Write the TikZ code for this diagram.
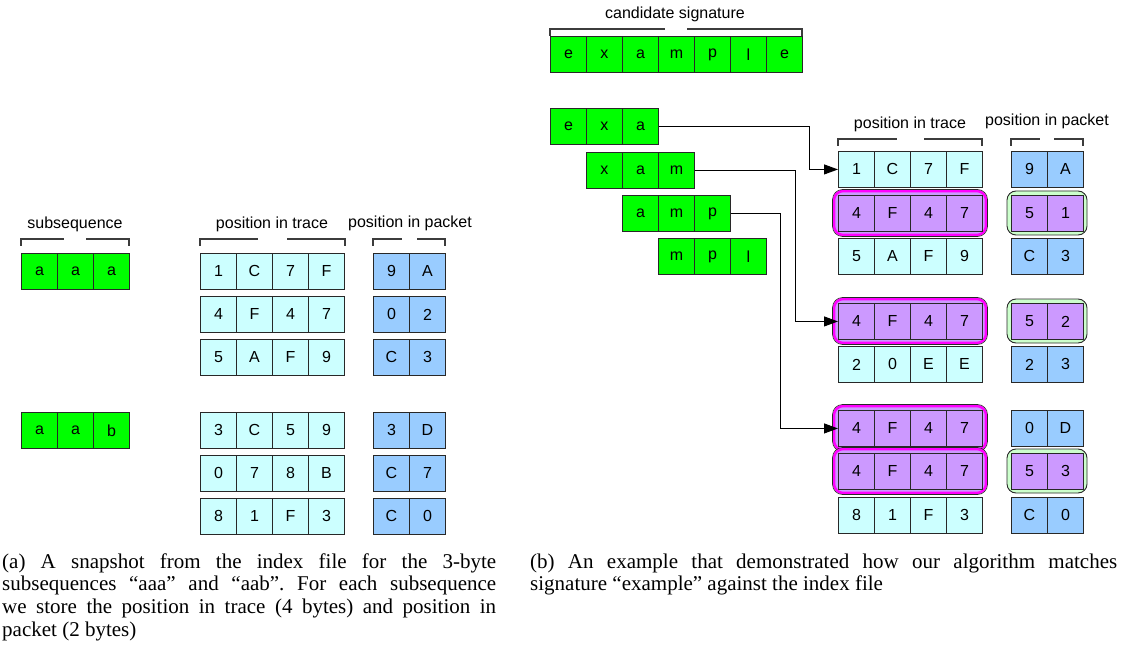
\documentclass[tikz,border=0pt]{standalone}
\usepackage{fontspec}
\setmainfont{Liberation Serif}
\setsansfont{Liberation Sans}
\usetikzlibrary{arrows.meta}
\definecolor{sgreen}{RGB}{0,255,0}
\definecolor{tcyan}{RGB}{204,255,255}
\definecolor{pblue}{RGB}{153,204,255}
\definecolor{ppurple}{RGB}{204,153,255}
\definecolor{pmag}{RGB}{255,0,255}
\definecolor{lgreen}{RGB}{204,255,204}
\definecolor{edge}{RGB}{40,40,40}
\definecolor{brk}{RGB}{60,60,60}
\newcommand{\cellrow}[5]{\foreach \v [count=\k] in {#5} {\node[cell, fill=#4] (#1-\k) at ({#2+(\k-1)*36},#3) {\v};}}
\newcommand{\mybracket}[5]{\draw[bracket] (#1,#5+7) -- (#1,#5) -- (#3,#5) (#4,#5) -- (#2,#5) -- (#2,#5+7);}
\tikzset{
  cell/.style={draw=edge, line width=0.9pt, minimum width=36pt, minimum height=36pt, inner sep=0pt, anchor=north west, font=\sffamily\fontsize{16}{19}\selectfont},
  bracket/.style={draw=brk, line width=1.1pt},
  lbl/.style={inner sep=0pt, font=\sffamily\fontsize{16}{19}\selectfont},
  arr/.style={draw=black, line width=1pt, -{Triangle[length=14pt,width=10pt]}},
  magbox/.style={fill=ppurple, draw=pmag, line width=2.6pt, rounded corners=9pt},
  magline/.style={draw=edge, line width=0.6pt, rounded corners=10pt},
  grnbox/.style={fill=lgreen, draw=edge, line width=0.9pt, rounded corners=9pt},
  captxt/.style={anchor=base west, inner sep=0pt, align=justify, font=\rmfamily\fontsize{21}{22.7}\selectfont}
}
\begin{document}
\begin{tikzpicture}[x=1pt,y=-1pt]
\useasboundingbox (0,0) rectangle (1122,647);
% ---------- (a) ----------
\node[lbl] (lsub) at (75,224) {subsequence};
\node[lbl] (ltr) at (272,224) {position in trace};
\node[lbl] (lpk) at (410,223) {position in packet};
\mybracket{21}{129}{64}{86}{239}
\mybracket{200}{345}{258}{287}{239}
\mybracket{373}{445}{402}{417}{239}
\cellrow{ga}{21}{253}{sgreen}{a,a,a}
\cellrow{gb}{21}{412}{sgreen}{a,a,b}
\cellrow{ta}{200}{253}{tcyan}{1,C,7,F}
\cellrow{tb}{200}{296}{tcyan}{4,F,4,7}
\cellrow{tc}{200}{339}{tcyan}{5,A,F,9}
\cellrow{td}{200}{412}{tcyan}{3,C,5,9}
\cellrow{te}{200}{455}{tcyan}{0,7,8,B}
\cellrow{tf}{200}{498}{tcyan}{8,1,F,3}
\cellrow{pa}{373}{253}{pblue}{9,A}
\cellrow{pb}{373}{296}{pblue}{0,2}
\cellrow{pc}{373}{339}{pblue}{C,3}
\cellrow{pd}{373}{412}{pblue}{3,D}
\cellrow{pe}{373}{455}{pblue}{C,7}
\cellrow{pf}{373}{498}{pblue}{C,0}
% ---------- (b) ----------
\node[lbl] (lcand) at (675,14.5) {candidate signature};
\mybracket{550}{802}{665}{687}{29}
\cellrow{sig}{550}{36}{sgreen}{e,x,a,m,p,l,e}
\cellrow{sa}{550}{108}{sgreen}{e,x,a}
\cellrow{sb}{586}{152}{sgreen}{x,a,m}
\cellrow{sc}{622}{195}{sgreen}{a,m,p}
\cellrow{sd}{658}{238}{sgreen}{m,p,l}
\node[lbl] (rtr) at (910,124) {position in trace};
\node[lbl] (rpk) at (1047,121.5) {position in packet};
\mybracket{838}{982}{897}{924}{139}
\mybracket{1011}{1083}{1040}{1054}{139}
% highlight boxes
\foreach \yy in {195,303,410,453} {
  \path[magbox] (834,\yy-4) rectangle (986,\yy+40);
  \path[magline] (832.5,\yy-5.5) rectangle (987.5,\yy+41.5);
}
\foreach \yy in {195,303,453} {
  \path[grnbox] (1007,\yy-4) rectangle (1087,\yy+40);
}
\cellrow{ra}{838}{151}{tcyan}{1,C,7,F}
\cellrow{rb}{838}{195}{ppurple}{4,F,4,7}
\cellrow{rc}{838}{238}{tcyan}{5,A,F,9}
\cellrow{rd}{838}{303}{ppurple}{4,F,4,7}
\cellrow{re}{838}{346}{tcyan}{2,0,E,E}
\cellrow{rf}{838}{410}{ppurple}{4,F,4,7}
\cellrow{rg}{838}{453}{ppurple}{4,F,4,7}
\cellrow{rh}{838}{497}{tcyan}{8,1,F,3}
\cellrow{qa}{1011}{151}{pblue}{9,A}
\cellrow{qb}{1011}{195}{ppurple}{5,1}
\cellrow{qc}{1011}{238}{pblue}{C,3}
\cellrow{qd}{1011}{303}{ppurple}{5,2}
\cellrow{qe}{1011}{346}{pblue}{2,3}
\cellrow{qf}{1011}{410}{pblue}{0,D}
\cellrow{qg}{1011}{453}{ppurple}{5,3}
\cellrow{qh}{1011}{497}{pblue}{C,0}
% arrows
\draw[arr] (sa-3.east) -- ++(151,0) |- (ra-1.west);
\draw[arr] (sb-3.east) -- ++(101,0) |- (rd-1.west);
\draw[arr] (sc-3.east) -- ++(50,0) |- (rf-1.west);
% captions
\node[captxt, text width=494pt] (capa) at (2,568) {\frenchspacing\hyphenpenalty=10000\exhyphenpenalty=10000 (a) A snapshot from the index file for the 3-byte\linebreak subsequences “aaa” and “aab”. For each subsequence\linebreak we store the position in trace (4 bytes) and position in\linebreak packet (2 bytes)};
\node[captxt, text width=587pt] (capb) at (530,568) {\frenchspacing\hyphenpenalty=10000\exhyphenpenalty=10000 (b) An example that demonstrated how our algorithm matches\linebreak signature “example” against the index file};
\end{tikzpicture}
\end{document}
